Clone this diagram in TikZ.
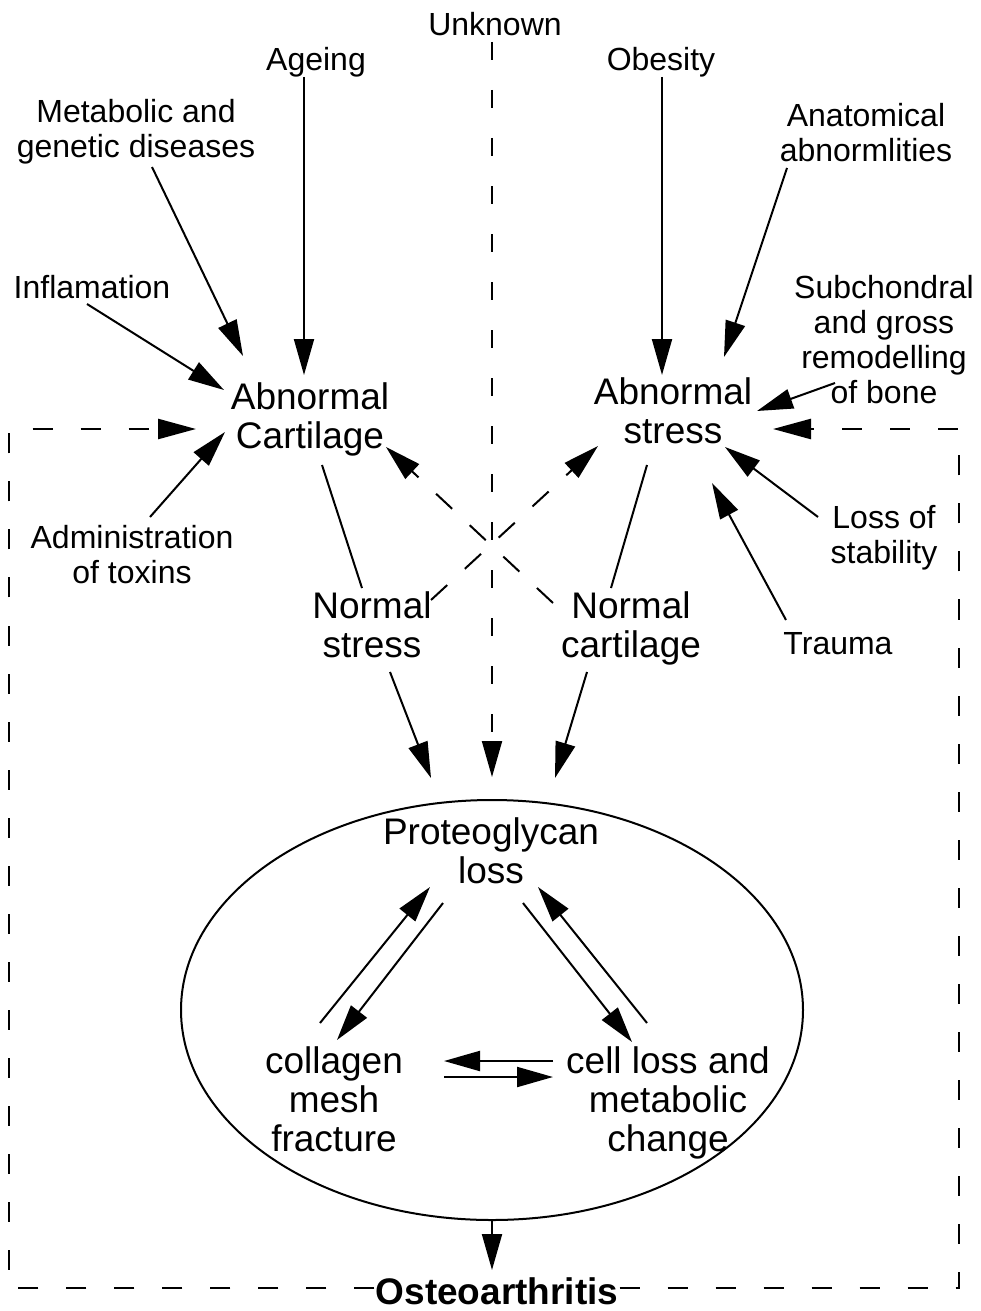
\documentclass[tikz,border=0pt]{standalone}
\usepackage{fontspec}
\setmainfont{Liberation Sans}
\usetikzlibrary{arrows.meta,shapes.geometric}
\newcommand\smallfnt{\fontsize{32}{35}\selectfont}
\newcommand\bigfnt{\fontsize{37}{39}\selectfont}
\begin{document}
\begin{tikzpicture}[x=1pt,y=-1pt,
  lab/.style={font=\smallfnt,align=center,inner sep=0pt,anchor=north},
  blab/.style={font=\bigfnt,align=center,inner sep=0pt,anchor=north},
  arr/.style={line width=2pt,-{Triangle[length=36pt,width=20pt]}},
  conn/.style={line width=2pt},
  xdash/.style={line width=2pt,dash pattern=on 22pt off 24pt},
  cdash/.style={line width=2pt,dash pattern=on 18pt off 30pt},
  boxd/.style={line width=2.5pt,dash pattern=on 20pt off 28pt}]
\useasboundingbox (0,0) rectangle (980,1311);

% labels
\node[lab] (U)  at (495,12.1)  {Unknown};
\node[lab] (Ag) at (316,47.1)  {Ageing};
\node[lab] (Me) at (136,99.1)  {Metabolic and\\genetic diseases};
\node[lab] (In) at (92,275.1)  {Inflamation};
\node[blab] (AC) at (310,382.5) {Abnormal\\Cartilage};
\node[lab] (Ad) at (132,525.1) {Administration\\of toxins};
\node[lab] (Ob) at (661,47.1)  {Obesity};
\node[lab] (An) at (866,103.1) {Anatomical\\abnormlities};
\node[lab] (Su) at (884,275.1) {Subchondral\\and gross\\remodelling\\of bone};
\node[blab] (AS) at (673,377.5) {Abnormal\\stress};
\node[lab] (Lo) at (884,505.1) {Loss of\\stability};
\node[lab] (Tr) at (838,632.1) {Trauma};
\node[blab] (NS) at (372,591.5) {Normal\\stress};
\node[blab] (NC) at (631,591.5) {Normal\\cartilage};
\node[draw,ellipse,line width=2pt,minimum width=622pt,minimum height=420pt,inner sep=0pt] (ell) at (492,1010) {};
\node[blab] (PR) at (491,817.5) {Proteoglycan\\loss};
\node[blab] (CO) at (334,1046.5) {collagen\\mesh\\fracture};
\node[blab] (CE) at (668,1046.5) {cell loss and\\metabolic\\change};
\node[blab,font=\bigfnt\bfseries,inner xsep=1pt] (OS) at (497,1277.5) {Osteoarthritis};

\coordinate (tl) at (9,429);
\coordinate (bl) at (9,1288);
\coordinate (br) at (959,1288);
\coordinate (tr) at (959,429);

% inputs to Abnormal Cartilage
\draw[arr] ([shift={(-12,29.9)}]Ag.north) -- ([shift={(-6,-7.5)}]AC.north);
\draw[arr] ([shift={(16,67.9)}]Me.north) -- ([shift={(-67,-26.5)}]AC.north);
\draw[arr] ([shift={(-5,28.9)}]In.north) -- ([shift={(-86,7.5)}]AC.north);
\draw[arr] ([shift={(18,-8.1)}]Ad.north) -- ([shift={(-85,49.5)}]AC.north);

% inputs to Abnormal stress
\draw[arr] ([shift={(1,29.9)}]Ob.north) -- ([shift={(-11,-2.5)}]AS.north);
\draw[arr] ([shift={(-79,64.9)}]An.north) -- ([shift={(51,-20.5)}]AS.north);
\draw[arr] ([shift={(-49,107.9)}]Su.north) -- ([shift={(84,33.5)}]AS.north);
\draw[arr] ([shift={(-66,11.9)}]Lo.north) -- ([shift={(52,69.5)}]AS.north);
\draw[arr] ([shift={(-52,-12.1)}]Tr.north) -- ([shift={(39,105.5)}]AS.north);

% abnormal -> normal lines
\draw[conn] ([shift={(12,82.5)}]AC.north) -- ([shift={(-10,-3.5)}]NS.north);
\draw[conn] ([shift={(-26,87.5)}]AS.north) -- ([shift={(-20,-3.5)}]NC.north);

% normal -> ellipse
\draw[arr] ([shift={(18,80.5)}]NS.north) -- ([shift={(-61,-232)}]ell.center);
\draw[arr] ([shift={(-44,80.5)}]NC.north) -- ([shift={(63,-232)}]ell.center);

% dashed cross
\draw[xdash,arr] ([shift={(59,8.5)}]NS.north) -- ([shift={(-75,68.5)}]AS.north);
\draw[xdash,arr] ([shift={(-78,11.5)}]NC.north) -- ([shift={(76,64.5)}]AC.north);

% unknown
\draw[cdash,arr] ([shift={(-3,29.9)}]U.north) -- ([shift={(0,-233)}]ell.center);

% dashed feedback box
\draw[boxd,-{Triangle[length=38pt,width=20pt]}] (OS.west |- bl) -- (bl) -- (tl) -- ([shift={(-114,46.5)}]AC.north);
\draw[boxd,-{Triangle[length=38pt,width=20pt]}] (OS.east |- br) -- (br) -- (tr) -- ([shift={(100,51.5)}]AS.north);

% ellipse to OA
\draw[arr] (ell.south) -- ([shift={(-5,-7.5)}]OS.north);

% inner cycle
\draw[arr] ([shift={(-14,-23.5)}]CO.north) -- ([shift={(-61,69.5)}]PR.north);
\draw[arr] ([shift={(-48,85.5)}]PR.north) -- ([shift={(3,-6.5)}]CO.north);
\draw[arr] ([shift={(32,85.5)}]PR.north) -- ([shift={(-36,-4.5)}]CE.north);
\draw[arr] ([shift={(-21,-23.5)}]CE.north) -- ([shift={(47,69.5)}]PR.north);
\draw[arr] ([shift={(-115,14.5)}]CE.north) -- ([shift={(110,14.5)}]CO.north);
\draw[arr] ([shift={(110,30.5)}]CO.north) -- ([shift={(-115,30.5)}]CE.north);
\end{tikzpicture}
\end{document}
